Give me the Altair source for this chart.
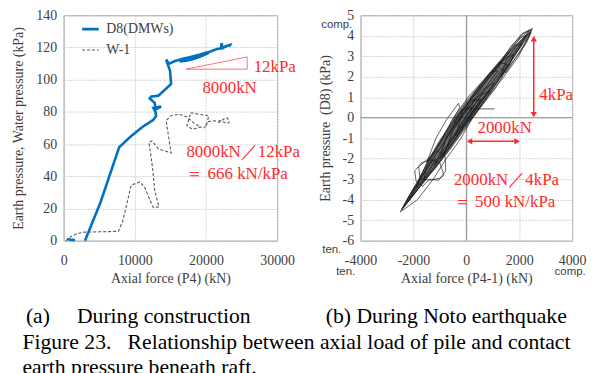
import altair as alt
import pandas as pd

SERIF = "Liberation Serif"
SANS = "Liberation Sans"
AX = "#404040"
RED = "#ff2a2a"

# ---------------- (a) During construction ----------------
d8_blip_x = [500, 1000, 1600]
d8_blip_y = [1.0, 0.6, 0.4]

d8_x = [3000, 5200, 7800, 9500, 11200, 12600, 13000, 12900, 12600, 13700, 12900, 12800,
        12100, 12300, 13300, 14200, 15100, 14950, 14400, 14800, 15600, 17000, 18500, 20000,
        19000, 17500, 16300, 17300, 18800, 20400, 19500, 17800, 16600, 18000, 20500, 21400,
        22100, 22200, 22350, 23000, 22600, 23400, 23300]
d8_y = [0, 24, 58, 65, 71, 75, 77.5, 80, 82.5, 83.3, 81.5, 85.5,
        88.3, 89.5, 90, 93.6, 97.3, 105.5, 112.5, 109.8, 111.5, 113.2, 114.5, 116.3,
        115.2, 113.4, 111.3, 111.8, 113.6, 116.6, 116.0, 113.8, 112.8, 114.2, 117.3, 118.8,
        119.5, 122.6, 119.6, 121.0, 120.4, 121.6, 120.6]

w1_x = [300, 1000, 2000, 3000, 5000, 7700, 8300, 9500, 10700, 11400, 12200, 12600, 13400,
        12800, 12500, 12000, 12400, 13300, 15100, 14700, 14400, 15000, 16200, 17300, 18300,
        19300, 18100, 17300, 17700, 17800, 19000, 20400, 20100, 19700, 20400, 21200, 21900,
        22500, 23000, 23300, 23100, 22400, 21800]
w1_y = [0, 2.5, 4.6, 5.3, 5.5, 5.8, 12, 34.5, 36.5, 33, 24.5, 20.5, 21,
        31, 45, 61, 62, 57, 54.5, 66, 74.5, 77.5, 78.5, 77, 73,
        70.5, 69.2, 71.5, 76.5, 79.5, 78.5, 77.5, 72.5, 69.8, 74, 74.5, 73.5,
        75.5, 76.2, 74, 72.8, 73.8, 74.8]

series_names = ["D8(DMWs)", "W-1"]

tri_x = [17200, 25800, 25800, 17200]
tri_y = [106.5, 114.1, 106.5, 106.5]

left_notes_text = ["12kPa", "8000kN", "8000kN\uff0f12kPa", "\uff1d 666 kN/kPa"]
left_notes_x = [26700, 19500, 17250, 17250]
left_notes_y = [107.9, 95.0, 55.0, 41.4]

left_x_ticks = [0, 10000, 20000, 30000]
left_y_ticks = [0, 20, 40, 60, 80, 100, 120, 140]

# ---------------- (b) During Noto earthquake ----------------
core_x = [-2450, -1700, -1020, -450, 50, 450, 950, 1480, 1920, 2300, 2450,
          2150, 1620, 1050, 480, -80, -520, -950, -1380, -1820, -2200, -2450]
core_y = [-4.5, -3.3, -2.2, -1.2, -0.3, 0.4, 1.3, 2.3, 3.2, 3.9, 4.25,
          3.9, 3.2, 2.4, 1.5, 0.6, -0.2, -1.1, -2.0, -3.1, -3.9, -4.5]

loop1_x = [-2500, -1850, -1250, -760, -200, 230, 800, 1420, 1980, 2500, 2100, 1420, 760, 60, -480, -900, -1380, -1800, -2250, -2500]
loop1_y = [-4.6, -4.0, -3.0, -2.0, -1.0, 0.0, 1.0, 2.0, 3.0, 4.35, 4.1, 3.0, 2.0, 1.0, 0.0, -1.0, -2.0, -3.0, -4.0, -4.6]
loop2_x = [-2380, -1900, -1400, -900, -420, 0, 520, 1200, 1830, 2380, 2050, 1560, 940, 300, -300, -700, -1250, -1700, -2150, -2380]
loop2_y = [-4.4, -3.6, -2.7, -1.8, -0.8, 0.1, 1.0, 2.1, 3.2, 4.25, 3.9, 3.1, 2.1, 1.1, 0.1, -0.9, -2.0, -2.9, -3.8, -4.4]
loop3_x = [-1900, -1200, -650, -80, 480, 1080, 1600, 1800, 1480, 900, 250, -450, -1000, -1500, -1900]
loop3_y = [-3.4, -2.5, -1.6, -0.6, 0.4, 1.4, 2.5, 3.1, 2.9, 2.0, 1.0, -0.1, -1.1, -2.2, -3.4]
loop4_x = [-2200, -1600, -1000, -450, 100, 550, 200, -380, -900, -1450, -1950, -2200]
loop4_y = [-4.1, -3.1, -2.1, -1.1, 0.0, 0.9, 0.8, -0.3, -1.3, -2.4, -3.5, -4.1]
loop5_x = [-400, 150, 750, 1350, 1900, 2300, 2050, 1500, 950, 350, -150, -400]
loop5_y = [-0.9, 0.1, 1.1, 2.1, 3.2, 4.05, 3.9, 3.1, 2.2, 1.3, 0.3, -0.9]
loop6_x = [-900, -350, 200, 750, 1050, 650, 100, -480, -900]
loop6_y = [-1.9, -0.9, 0.1, 1.1, 1.7, 1.4, 0.5, -0.6, -1.9]
loop7_x = [-1950, -1700, -1350, -1000, -850, -1050, -1400, -1650, -1900, -1950]
loop7_y = [-2.6, -2.2, -2.05, -2.2, -2.8, -3.05, -3.0, -3.35, -3.1, -2.6]
loop8_x = [-1800, -1450, -1100, -800, -780, -1000, -1350, -1750, -1800]
loop8_y = [-2.4, -2.0, -1.6, -1.9, -2.6, -2.95, -3.05, -3.0, -2.4]
loop9_x = [1300, 1800, 2250, 2450, 2300, 1900, 1500, 1300]
loop9_y = [2.0, 2.8, 3.6, 4.15, 4.05, 3.5, 2.8, 2.0]
loop10_x = [-1500, -1100, -700, -250, -300, -750, -1150, -1500]
loop10_y = [-2.2, -1.4, -0.5, 0.5, 0.7, -0.1, -1.0, -2.2]
loop11_x = [-200, 400, 1000, 1550, 1250, 650, 0, -500, -200]
loop11_y = [-0.5, 0.6, 1.6, 2.6, 2.7, 1.8, 0.8, -0.1, -0.5]
loop12_x = [-2450, -2000, -1550, -1150, -1350, -1800, -2200, -2450]
loop12_y = [-4.5, -3.7, -2.8, -2.0, -2.2, -3.1, -4.0, -4.5]
loop13_x = [1500, 1950, 2350, 2450, 2150, 1700, 1200, 1500]
loop13_y = [2.2, 3.1, 3.9, 4.3, 4.1, 3.5, 2.5, 2.2]
loop14_x = [-1200, -650, -100, 500, 900, 500, -100, -700, -1200]
loop14_y = [-2.3, -1.3, -0.3, 0.8, 1.3, 1.1, 0.2, -0.9, -2.3]
loop15_x = [-700, -250, 300, 800, 1200, 900, 400, -150, -550, -700]
loop15_y = [-1.4, -0.5, 0.6, 1.6, 2.3, 2.2, 1.3, 0.3, -0.6, -1.4]
loop16_x = [-1600, -1150, -650, -200, 200, -150, -600, -1050, -1500, -1600]
loop16_y = [-3.0, -2.1, -1.2, -0.3, 0.5, 0.4, -0.5, -1.4, -2.4, -3.0]
loop17_x = [100, 600, 1150, 1700, 2100, 1800, 1300, 750, 250, 100]
loop17_y = [-0.2, 0.7, 1.7, 2.8, 3.6, 3.5, 2.7, 1.8, 0.8, -0.2]
loop18_x = [-1000, -450, 50, 550, 250, -250, -750, -1000]
loop18_y = [-2.0, -1.1, -0.2, 0.8, 0.9, 0.0, -0.9, -2.0]
flat_x = [60, 1070]
flat_y = [0.43, 0.43]

zero_x = [0]
zero_y = [0]
arrow_v_x = [2550]
arrow_v_y = [0.1, 3.9]
arrow_h_y = [-1.15]
arrow_h_x = [80, 1960]

right_notes_text = ["4kPa", "2000kN", "2000kN\uff0f4kPa", "\uff1d 500 kN/kPa"]
right_notes_x = [2760, 1450, -470, -470]
right_notes_y = [1.12, -0.52, -3.04, -4.11]
right_notes_align = ["left", "center", "left", "left"]

side_text = ["comp.", "ten.", "ten.", "comp."]
side_x = [-4000, -4000, -4000, 4000]
side_y = [5, -6, -6, -6]
side_dx = [-24, -29, -15, -2]
side_dy = [10, 9, 32, 32]

right_x_ticks = [-4000, -2000, 0, 2000, 4000]
right_y_ticks = [-6, -5, -4, -3, -2, -1, 0, 1, 2, 3, 4, 5]

# ---------------- build tables ----------------
rows = []
for i, (x, y) in enumerate(zip(d8_blip_x, d8_blip_y)):
    rows.append(dict(series="D8(DMWs)", seg="d8a", i=i, x=x, y=y))
for i, (x, y) in enumerate(zip(d8_x, d8_y)):
    rows.append(dict(series="D8(DMWs)", seg="d8b", i=i, x=x, y=y))
for i, (x, y) in enumerate(zip(w1_x, w1_y)):
    rows.append(dict(series="W-1", seg="w1", i=i, x=x, y=y))
left_df = pd.DataFrame(rows)

tri_df = pd.DataFrame({"x": tri_x, "y": tri_y, "i": list(range(len(tri_x)))})
lnotes = pd.DataFrame({"t": left_notes_text, "x": left_notes_x, "y": left_notes_y})

core_df = pd.DataFrame({"x": core_x, "y": core_y, "i": list(range(len(core_x)))})
loops = [(loop1_x, loop1_y), (loop2_x, loop2_y), (loop3_x, loop3_y), (loop4_x, loop4_y),
         (loop5_x, loop5_y), (loop6_x, loop6_y), (loop7_x, loop7_y), (loop8_x, loop8_y),
         (loop9_x, loop9_y), (loop10_x, loop10_y), (loop11_x, loop11_y), (loop12_x, loop12_y),
         (loop13_x, loop13_y), (loop14_x, loop14_y), (loop15_x, loop15_y), (loop16_x, loop16_y),
         (loop17_x, loop17_y), (loop18_x, loop18_y), (flat_x, flat_y)]
hrows = []
for k, (lx, ly) in enumerate(loops):
    for i, (x, y) in enumerate(zip(lx, ly)):
        hrows.append(dict(loop=k, i=i, x=x, y=y))
hyst_df = pd.DataFrame(hrows)
rnotes = pd.DataFrame({"t": right_notes_text, "x": right_notes_x, "y": right_notes_y, "a": right_notes_align})
side_df = pd.DataFrame({"t": side_text, "x": side_x, "y": side_y, "dx": side_dx, "dy": side_dy})
zv_df = pd.DataFrame({"x": zero_x})
zh_df = pd.DataFrame({"y": zero_y})
av_df = pd.DataFrame({"x": arrow_v_x, "y": [arrow_v_y[0]], "y2": [arrow_v_y[1]]})
ah_df = pd.DataFrame({"y": arrow_h_y, "x": [arrow_h_x[0]], "x2": [arrow_h_x[1]]})
heads_df = pd.DataFrame({
    "x": [arrow_v_x[0], arrow_v_x[0], arrow_h_x[0] + 40, arrow_h_x[1] - 40],
    "y": [arrow_v_y[1] - 0.05, arrow_v_y[0] + 0.05, arrow_h_y[0], arrow_h_y[0]],
    "s": ["triangle-up", "triangle-down", "triangle-left", "triangle-right"]})

# ---------------- left chart ----------------
lxs = alt.Scale(domain=[0, 30000], nice=False, zero=False)
lys = alt.Scale(domain=[0, 140], nice=False, zero=False)
lx_axis = alt.Axis(values=left_x_ticks, labelExpr="toString(datum.value)", labelOverlap=False,
                   labelFlush=False, title="Axial force (P4) (kN)")
ly_axis = alt.Axis(values=left_y_ticks, labelExpr="toString(datum.value)", labelOverlap=False,
                   title="Earth pressure, Water pressure (kPa)")


def LX(f="x:Q"):
    return alt.X(f, scale=lxs, axis=lx_axis)


def LY(f="y:Q"):
    return alt.Y(f, scale=lys, axis=ly_axis)


leg = alt.Legend(title=None, orient="none", legendX=17, legendY=4, symbolType="stroke",
                 symbolSize=280, labelFont=SERIF, labelFontSize=14, labelColor=AX,
                 rowPadding=5, labelOffset=6, padding=0)

lines = alt.Chart(left_df).mark_line().encode(
    x=LX(), y=LY(),
    color=alt.Color("series:N", scale=alt.Scale(domain=series_names, range=["#0070C0", "#555555"]), legend=leg),
    strokeDash=alt.StrokeDash("series:N", scale=alt.Scale(domain=series_names, range=[[1, 0], [3, 2]]), legend=leg),
    strokeWidth=alt.StrokeWidth("series:N", scale=alt.Scale(type="ordinal", domain=series_names, range=[2.6, 1.1]), legend=leg),
    detail="seg:N",
    order="i:Q",
)

tri = alt.Chart(tri_df).mark_line(color="#ff5050", strokeWidth=0.8).encode(x=LX(), y=LY(), order="i:Q")

ltxt = alt.Chart(lnotes).mark_text(align="left", baseline="middle", font=SERIF, fontSize=17, color=RED).encode(
    x=LX(), y=LY(), text="t:N")

CAP = 21.8

left = alt.layer(lines, tri, ltxt).properties(
    width=215, height=227,
    title=alt.TitleParams("(a)" + "\u00a0" * 5 + "During construction", orient="bottom", anchor="start",
                          frame="group", dx=-38, offset=21, font=SERIF, fontSize=CAP,
                          fontWeight="normal", color="black"))

# ---------------- right chart ----------------
rxs = alt.Scale(domain=[-4000, 4000], nice=False, zero=False)
rys = alt.Scale(domain=[-6, 5], nice=False, zero=False)
rx_axis = alt.Axis(values=right_x_ticks, labelExpr="toString(datum.value)", labelOverlap=False,
                   labelFlush=False, title="Axial force (P4-1) (kN)")
ry_axis = alt.Axis(values=right_y_ticks, labelExpr="toString(datum.value)", labelOverlap=False,
                   title="Earth pressure\u00a0\u00a0(D8) (kPa)")


def RX(f="x:Q"):
    return alt.X(f, scale=rxs, axis=rx_axis)


def RY(f="y:Q"):
    return alt.Y(f, scale=rys, axis=ry_axis)


zero_v = alt.Chart(zv_df).mark_rule(color="#8c8c8c", strokeWidth=1).encode(x=RX())
zero_h = alt.Chart(zh_df).mark_rule(color="#8c8c8c", strokeWidth=1).encode(y=RY())

core = alt.Chart(core_df).mark_line(color="#1e1e1e", fill="#1e1e1e", fillOpacity=0.75, strokeWidth=0.8, opacity=0.85).encode(
    x=RX(), y=RY(), order="i:Q")

hyst = alt.Chart(hyst_df).mark_line(color="#1a1a1a", strokeWidth=0.9, opacity=0.75).encode(
    x=RX(), y=RY(), detail="loop:N", order="i:Q")

arrow_v = alt.Chart(av_df).mark_rule(color=RED, strokeWidth=1.5).encode(x=RX(), y=RY(), y2="y2:Q")
arrow_h = alt.Chart(ah_df).mark_rule(color=RED, strokeWidth=1.5).encode(y=RY(), x=RX(), x2="x2:Q")
heads = alt.Chart(heads_df).mark_point(filled=True, color=RED, size=40, opacity=1).encode(
    x=RX(), y=RY(), shape=alt.Shape("s:N", scale=None))

rtxt_l = alt.Chart(rnotes[rnotes["a"] == "left"]).mark_text(align="left", baseline="middle", font=SERIF,
                                                           fontSize=17, color=RED).encode(
    x=RX(), y=RY(), text="t:N")
rtxt_c = alt.Chart(rnotes[rnotes["a"] == "center"]).mark_text(align="center", baseline="middle", font=SERIF,
                                                             fontSize=17, color=RED).encode(
    x=RX(), y=RY(), text="t:N")

side_layers = []
for idx, r in side_df.iterrows():
    side_layers.append(
        alt.Chart(side_df[side_df.index == idx]).mark_text(align="center", baseline="middle", font=SANS,
                                                            fontSize=11.5, color=AX, dx=int(r["dx"]), dy=int(r["dy"])).encode(
            x=RX(), y=RY(), text="t:N"))

right = alt.layer(zero_v, zero_h, core, hyst, arrow_v, arrow_h, heads,
                  rtxt_l, rtxt_c, *side_layers).properties(
    width=213, height=227,
    title=alt.TitleParams("(b) During Noto earthquake", orient="bottom", anchor="start",
                          frame="group", dx=-35, offset=21, font=SERIF, fontSize=CAP,
                          fontWeight="normal", color="black"))

chart = alt.hconcat(left, right, spacing=84, bounds="flush").properties(
    title=alt.TitleParams(["Figure 23.\u00a0\u00a0\u00a0Relationship between axial load of pile and contact",
                           "earth pressure beneath raft."],
                          orient="bottom", anchor="start", frame="bounds", dx=11, offset=4,
                          font=SERIF, fontSize=CAP, fontWeight="normal", color="black", lineHeight=24.5),
    padding={"left": 3, "top": -2, "right": 0, "bottom": 0},
).configure_view(stroke="#8c8c8c", strokeWidth=1).configure_axis(
    labelFont=SERIF, labelFontSize=14, labelColor=AX, titleFont=SERIF, titleFontSize=14,
    titleFontWeight="normal", titleColor=AX, ticks=False, domain=False, grid=True,
    gridColor="#d4d4d4", gridDash=[2, 1], gridWidth=1, labelOverlap=False,
).configure_axisY(labelPadding=7, titlePadding=10).configure_axisX(labelPadding=13, titlePadding=4)

chart.save("out.html", embed_options={"renderer": "svg", "actions": False})
